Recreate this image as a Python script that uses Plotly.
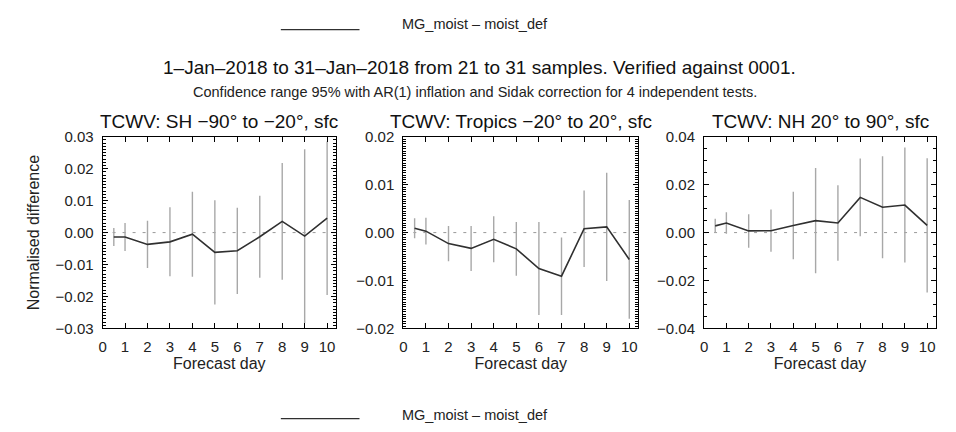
import plotly.graph_objects as go
from plotly.subplots import make_subplots

# Forecast lead times (days)
days = [0.5, 1, 2, 3, 4, 5, 6, 7, 8, 9, 10]

# Normalised difference of TCWV (MG_moist - moist_def) and 95% confidence half-widths
sh_mean = [-0.0014, -0.0014, -0.0037, -0.0029, -0.0005, -0.0062, -0.0057, -0.0013, 0.0035, -0.0011, 0.0045]
sh_ci = [0.0028, 0.0044, 0.0074, 0.0108, 0.0133, 0.0163, 0.0135, 0.0128, 0.0183, 0.0272, 0.0240]

tr_mean = [0.0009, 0.0003, -0.0023, -0.0033, -0.0014, -0.0034, -0.0075, -0.0091, 0.0008, 0.0012, -0.0056]
tr_ci = [0.0021, 0.0028, 0.0037, 0.0047, 0.0048, 0.0056, 0.0097, 0.0081, 0.0080, 0.0113, 0.0124]

nh_mean = [0.0028, 0.0040, 0.0007, 0.0008, 0.0030, 0.0050, 0.0040, 0.0147, 0.0106, 0.0115, 0.0030]
nh_ci = [0.0030, 0.0045, 0.0070, 0.0088, 0.0141, 0.0220, 0.0158, 0.0162, 0.0213, 0.0240, 0.0280]

panel_titles = ["TCWV: SH \u221290\u00b0 to \u221220\u00b0, sfc",
                "TCWV: Tropics \u221220\u00b0 to 20\u00b0, sfc",
                "TCWV: NH 20\u00b0 to 90\u00b0, sfc"]
y_ranges = [(-0.03, 0.03), (-0.02, 0.02), (-0.04, 0.04)]
y_dticks = [0.01, 0.01, 0.02]
y_minor = [0.001, 0.0005, 0.005]
x_ticks = list(range(0, 11))

series_name = "MG_moist \u2013 moist_def"
title_text = "1\u2013Jan\u20132018 to 31\u2013Jan\u20132018 from 21 to 31 samples. Verified against 0001."
subtitle_text = "Confidence range 95% with AR(1) inflation and Sidak correction for 4 independent tests."

W, H = 956, 432
x_domains = [(99, 333.5), (401, 637), (703, 936)]
y_domain = [1 - 332.5 / H, 1 - 133 / H]

FONT = "Liberation Sans, Arial, sans-serif"
TICK_FONT = dict(family=FONT, size=15, color="#222")
TITLE_FONT = dict(family=FONT, size=16, color="#222")

fig = make_subplots(rows=1, cols=3)
panels = [(sh_mean, sh_ci), (tr_mean, tr_ci), (nh_mean, nh_ci)]
for i, (mean, ci) in enumerate(panels):
    col = i + 1
    fig.add_trace(go.Scatter(
        x=days, y=mean, mode="lines", name=series_name, showlegend=False,
        line=dict(color="#303030", width=1.6),
        error_y=dict(type="data", array=ci, symmetric=True, width=0,
                     thickness=1.4, color="#a8a8a8"),
    ), row=1, col=col)
    x0, x1 = x_domains[i]
    fig.update_xaxes(domain=[x0 / W, x1 / W], range=[0, 10.4],
                     tickmode="array", tickvals=x_ticks, ticktext=[str(t) for t in x_ticks],
                     showline=True, linecolor="black", linewidth=1, mirror="ticks",
                     ticks="inside", ticklen=5, tickcolor="black", showgrid=False,
                     zeroline=False, tickfont=TICK_FONT, ticklabelstandoff=5,
                     title=dict(text="Forecast day", font=TITLE_FONT, standoff=3),
                     row=1, col=col)
    fig.update_yaxes(domain=y_domain, range=list(y_ranges[i]), dtick=y_dticks[i], tick0=0,
                     tickformat=".2f",
                     showline=True, linecolor="black", linewidth=1, mirror="ticks",
                     ticks="inside", ticklen=5, tickcolor="black", showgrid=False,
                     zeroline=False, tickfont=TICK_FONT, ticklabelstandoff=5,
                     minor=dict(ticks="inside", ticklen=3, dtick=y_minor[i], tickcolor="black"),
                     row=1, col=col)
    # dotted zero reference
    fig.add_hline(y=0, line=dict(color="#9a9a9a", width=1, dash="3px,7px"), layer="below",
                  row=1, col=col)
    fig.add_annotation(x=(x0 + x1) / 2 / W, y=1 - 117.5 / H, xref="paper", yref="paper",
                       text=panel_titles[i], showarrow=False, xanchor="center", yanchor="middle",
                       font=dict(family=FONT, size=19, color="#111"))

fig.update_yaxes(title=dict(text="Normalised difference", font=TITLE_FONT, standoff=12),
                 row=1, col=1)

# titles
fig.add_annotation(x=477 / W, y=1 - 61 / H, xref="paper", yref="paper", text=title_text,
                   showarrow=False, xanchor="center", yanchor="middle",
                   font=dict(family=FONT, size=19, color="#111"))
fig.add_annotation(x=473 / W, y=1 - 86.5 / H, xref="paper", yref="paper", text=subtitle_text,
                   showarrow=False, xanchor="center", yanchor="middle",
                   font=dict(family=FONT, size=14.5, color="#222"))

# key (top and bottom)
for ly, ty in [(21.5, 16), (426.5, 423)]:
    fig.add_shape(type="line", xref="paper", yref="paper", x0=278 / W, x1=357 / W,
                  y0=1 - ly / H, y1=1 - ly / H, line=dict(color="#303030", width=1.2))
    fig.add_annotation(x=398 / W, y=1 - ty / H, xref="paper", yref="paper", text=series_name,
                       showarrow=False, xanchor="left", yanchor="middle",
                       font=dict(family=FONT, size=14.5, color="#222"))

fig.update_layout(width=W, height=H, margin=dict(l=0, r=0, t=0, b=0),
                  paper_bgcolor="white", plot_bgcolor="white", showlegend=False)

fig.write_html("out.html")
